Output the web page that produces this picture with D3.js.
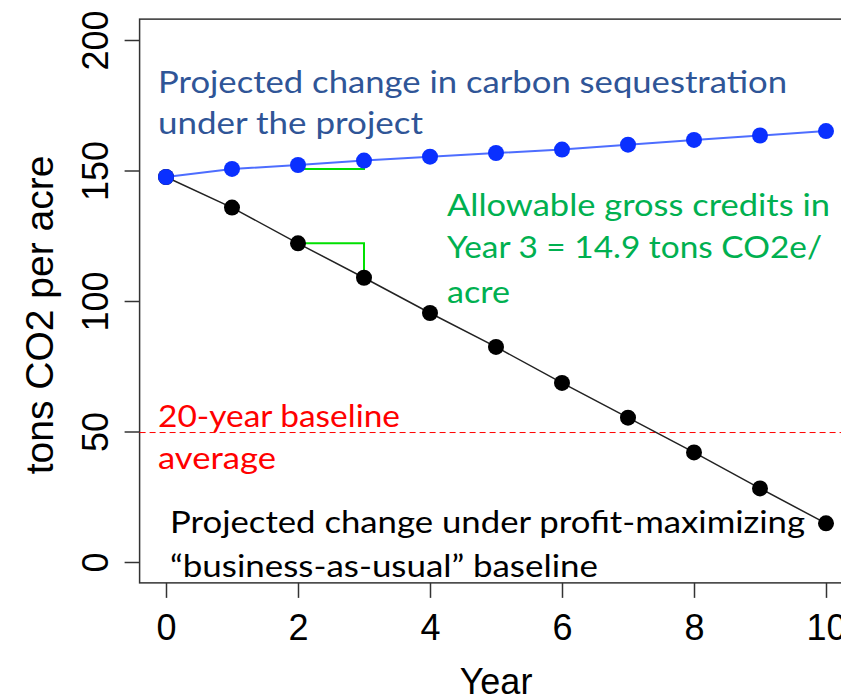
<!DOCTYPE html>
<html>
<head>
<meta charset="utf-8">
<script src="https://cdn.jsdelivr.net/npm/d3@7"></script>
<style>
  body { margin: 0; background: #fff; }
  svg { display: block; }
</style>
</head>
<body>
<svg width="841" height="698"></svg>
<script>
const years = [0, 1, 2, 3, 4, 5, 6, 7, 8, 9, 10];
const projectValues = [147.5, 150.6, 152.1, 153.8, 155.3, 156.7, 158.0, 159.9, 161.7, 163.4, 165.1];
const baselineValues = [147.5, 135.8, 122.1, 108.9, 95.4, 82.4, 68.6, 55.3, 42.0, 28.2, 14.8];
const baselineAverage = 49.6;
const xTicks = [0, 2, 4, 6, 8, 10];
const yTicks = [0, 50, 100, 150, 200];
const creditYear = 3;

const svg = d3.select("svg");
const x = d3.scaleLinear().domain([0, 10]).range([166, 826]);
const y = d3.scaleLinear().domain([0, 200]).range([562, 40]);

const boxLeft = x(-0.4), boxRight = x(10.4), boxTop = y(208), boxBottom = y(-8);

// plot box
svg.append("rect")
    .attr("x", boxLeft).attr("y", boxTop)
    .attr("width", boxRight - boxLeft).attr("height", boxBottom - boxTop)
    .attr("fill", "none").attr("stroke", "#333").attr("stroke-width", 1.5);

// y axis
const yAxis = svg.append("g")
    .attr("transform", `translate(${boxLeft},0)`)
    .call(d3.axisLeft(y).tickValues(yTicks).tickSize(15).tickSizeOuter(0).tickPadding(0).tickFormat(d3.format("d")));
yAxis.select(".domain").remove();
yAxis.selectAll(".tick line").attr("stroke", "#333").attr("stroke-width", 1.5);
yAxis.selectAll(".tick text")
    .attr("x", null).attr("dy", null)
    .attr("transform", "translate(-32,0) rotate(-90)")
    .attr("text-anchor", "middle")
    .attr("font-family", "'Liberation Sans', Arial, sans-serif")
    .attr("font-size", 36).attr("fill", "#000");

// x axis
const xAxis = svg.append("g")
    .attr("transform", `translate(0,${boxBottom})`)
    .call(d3.axisBottom(x).tickValues(xTicks).tickSize(15).tickSizeOuter(0).tickPadding(0));
xAxis.select(".domain").remove();
xAxis.selectAll(".tick line").attr("stroke", "#333").attr("stroke-width", 1.5);
xAxis.selectAll(".tick text")
    .attr("y", 57).attr("dy", null)
    .attr("font-family", "'Liberation Sans', Arial, sans-serif")
    .attr("font-size", 36).attr("fill", "#000");

// axis titles
svg.append("text")
    .attr("transform", `translate(53,315) rotate(-90)`)
    .attr("text-anchor", "middle")
    .attr("font-family", "'Liberation Sans', Arial, sans-serif")
    .attr("font-size", 39)
    .text("tons CO2 per acre");

svg.append("text")
    .attr("x", (boxLeft + boxRight) / 2).attr("y", 694)
    .attr("text-anchor", "middle")
    .attr("font-family", "'Liberation Sans', Arial, sans-serif")
    .attr("font-size", 36)
    .text("Year");

// 20-year baseline average
svg.append("line")
    .attr("x1", boxLeft).attr("x2", boxRight)
    .attr("y1", y(baselineAverage)).attr("y2", y(baselineAverage))
    .attr("stroke", "#ff0000").attr("stroke-width", 1)
    .attr("stroke-dasharray", "6,4");

const line = d3.line().x((d, i) => x(years[i])).y(d => y(d));

// lines
svg.append("path")
    .attr("d", line(baselineValues))
    .attr("fill", "none").attr("stroke", "#222").attr("stroke-width", 1.5);
svg.append("path")
    .attr("d", line(projectValues))
    .attr("fill", "none").attr("stroke", "#4d6dff").attr("stroke-width", 2);

// green credit brackets
const i2 = creditYear - 1, i3 = creditYear;
const brackets = [
    [[years[i2], projectValues[i2] - 1.5], [years[i3], projectValues[i2] - 1.5], [years[i3], projectValues[i3]]],
    [[years[i2], baselineValues[i2]], [years[i3], baselineValues[i2]], [years[i3], baselineValues[i3]]]
];
const bracketLine = d3.line().x(d => x(d[0])).y(d => y(d[1]));
svg.selectAll(".bracket")
    .data(brackets)
    .enter().append("path")
    .attr("class", "bracket")
    .attr("d", bracketLine)
    .attr("fill", "none").attr("stroke", "#00e000").attr("stroke-width", 2);

// points
svg.selectAll(".pt-base")
    .data(baselineValues)
    .enter().append("circle")
    .attr("class", "pt-base")
    .attr("cx", (d, i) => x(years[i])).attr("cy", d => y(d))
    .attr("r", 8).attr("fill", "#000");

svg.selectAll(".pt-proj")
    .data(projectValues)
    .enter().append("circle")
    .attr("class", "pt-proj")
    .attr("cx", (d, i) => x(years[i])).attr("cy", d => y(d))
    .attr("r", 8).attr("fill", "#0a30ff");

// annotations
const notes = [
    { color: "#2f5597", x: 158, lines: [["Projected change in carbon sequestration", 93, 629], ["under the project", 134, 265]] },
    { color: "#00b050", x: 447, lines: [["Allowable gross credits in", 216, 383], ["Year 3 = 14.9 tons CO2e/", 258, 375], ["acre", 303, 63]] },
    { color: "#ff0000", x: 158, lines: [["20-year baseline", 427, 242], ["average", 469, 118]] },
    { color: "#000000", x: 170, lines: [["Projected change under profit-maximizing", 533, 635], ["\u201cbusiness-as-usual\u201d baseline", 577, 428]] }
];
notes.forEach(n => {
    svg.append("g").selectAll("text")
        .data(n.lines)
        .enter().append("text")
        .attr("x", n.x).attr("y", d => d[1])
        .attr("textLength", d => d[2])
        .attr("lengthAdjust", "spacingAndGlyphs")
        .attr("font-family", "Lato, 'Open Sans', sans-serif")
        .attr("font-size", 31)
        .attr("fill", n.color)
        .text(d => d[0]);
});
</script>
</body>
</html>
